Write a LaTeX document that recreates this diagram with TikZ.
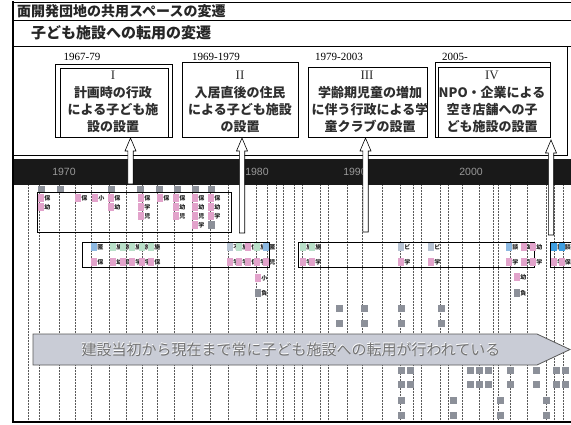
\documentclass[tikz,border=0pt]{standalone}
\usepackage{fontspec}
\setmainfont{Liberation Serif}
\newfontfamily\jp{Noto Sans CJK JP}
\newfontfamily\lsans{Liberation Sans}
\definecolor{tpink}{HTML}{E2A3CB}
\definecolor{tgreen}{HTML}{B9E0C9}
\definecolor{tblue}{HTML}{8DB9E2}
\definecolor{tblue2}{HTML}{3E9EE0}
\definecolor{tbgray}{HTML}{B7C3D3}
\definecolor{tgray}{HTML}{8C9099}
\definecolor{bandfill}{HTML}{C9CCD6}
\definecolor{boxtext}{HTML}{2E2E2E}
\tikzset{
  gridline/.style={densely dotted, line width=0.5pt, black!65},
  frameline/.style={line width=0.7pt, black},
  boxtxt/.style={align=center, font=\jp\bfseries\fontsize{13}{17}\selectfont, text=boxtext, inner sep=0pt},
  numtxt/.style={font=\rmfamily\fontsize{13}{13}\selectfont, text=boxtext, inner sep=0pt},
  yeartxt/.style={font=\rmfamily\fontsize{11}{11}\selectfont, inner sep=0pt},
  bandyear/.style={font=\lsans\fontsize{10.5}{10.5}\selectfont, text=black!40, inner sep=0pt},
  tc/.style={font=\jp\bfseries\fontsize{6}{6}\selectfont, text=black!85, inner sep=0pt},
  hollowarrow/.style={fill=white, draw=black, line width=0.6pt, line join=miter},
  groupbox/.style={draw=black, line width=0.7pt},
  bigarrow/.style={fill=bandfill, draw=black!65, line width=0.8pt},
  sq/.style={fill=tgray}
}
\newcommand\tl[4]{\fill[#3] (#1,#2-4) rectangle ++(6,8); \node[tc] (t#1-#2) at (#1+9.3,#2) {#4};}
\newcommand\sqr[2]{\fill[sq] (#1,#2) rectangle ++(7,7);}
\newcommand\uparr[4]{% name, x, ytip, ybottom
  \coordinate (#1tip) at (#2,#3);
  \coordinate (#1end) at (#2,#4);
  \draw[hollowarrow] (#1tip) -- ++(5.5,13) -- ++(-2.8,0) |- (#1end) -- ++(-2.7,0) -- ++(0,-#4+#3+13) -- ++(-2.8,0) -- cycle;}
\begin{document}
\begin{tikzpicture}[x=1pt,y=-1pt]
\useasboundingbox (0,0) rectangle (571,424);
\fill[white] (0,0) rectangle (571,424);

% dotted timeline grid
\foreach \x in {28,39,59,75,91,109,126,142,157,174,192,210,228,256,267,276,283,294,302,320,328,347,362,382,400,413,421,440,448,462,479,493,498,510,527,546,554,563}
  \draw[gridline] (\x,185) -- (\x,421);

% title rows and panel frame
\draw[frameline] (12,2) -- (571,2);
\draw[frameline] (12,20) -- (571,20);
\draw[frameline] (12,46) -- (571,46);
\draw[frameline] (567,46) -- (567,155) -- (14,155);
\node[anchor=west, font=\jp\bfseries\fontsize{14}{14}\selectfont, text=black!85, inner sep=0pt] (title1) at (17,11) {面開発団地の共用スペースの変遷};
\node[anchor=west, font=\jp\bfseries\fontsize{15}{15}\selectfont, text=black!85, inner sep=0pt] (title2) at (31,33) {子ども施設への転用の変遷};

% years
\node[yeartxt] (yr1) at (82,57) {1967-79};
\node[yeartxt] (yr2) at (216,57) {1969-1979};
\node[yeartxt] (yr3) at (339,57) {1979-2003};
\node[yeartxt] (yr4) at (455,57) {2005-};

% boxes
\draw[frameline] (55,64) rectangle (172,137);
\draw[frameline] (60,68) rectangle (168,137);
\node[numtxt] (nI) at (113,75) {I};
\node[boxtxt] (bI) at (113,110) {計画時の行政\\による子ども施\\設の設置};

\draw[frameline] (182,62) rectangle (298,137);
\node[numtxt] (nII) at (240,75) {II};
\node[boxtxt] (bII) at (240,110) {入居直後の住民\\による子ども施設\\の設置};

\draw[frameline] (308,67) rectangle (427,137);
\node[numtxt] (nIII) at (367,75) {III};
\node[boxtxt] (bIII) at (370,110) {学齢期児童の増加\\に伴う行政による学\\童クラブの設置};

\draw[frameline] (435,62) rectangle (550,137);
\draw[frameline] (438,67) -- (550,67);
\draw[frameline] (438,67) -- (438,137);
\node[numtxt] (nIV) at (492,75) {IV};
\node[boxtxt] (bIV) at (492,110) {NPO・企業による\\空き店舗への子\\ども施設の設置};

% black time band
\fill[black!90] (14,159) rectangle (571,185);
\node[bandyear] (y1970) at (64,172) {1970};
\node[bandyear] (y1980) at (257,172) {1980};
\node[bandyear] (y1990) at (355,172) {1990};
\node[bandyear] (y2000) at (471,172) {2000};

% hollow arrows from timeline to boxes
\uparr{aI}{130.5}{138}{184}
\uparr{aII}{242}{138}{233}
\uparr{aIII}{365.5}{138}{232}
\uparr{aIV}{551}{140}{235}

% group A
\foreach \x in {38,57,108,137,156,174,192,208} \fill[tgray] (\x,186) rectangle ++(7,6);
\draw[groupbox] (37,192) rectangle (231,232);
\tl{38}{198}{tpink}{保}\tl{38}{207}{tpink}{幼}
\tl{75}{198}{tpink}{保}
\tl{92}{198}{tpink}{小}
\tl{108}{198}{tpink}{保}\tl{108}{207}{tpink}{幼}
\tl{138}{198}{tpink}{保}\tl{138}{207}{tpink}{学}\tl{138}{216}{tpink}{児}
\tl{157}{198}{tpink}{保}
\tl{173}{198}{tpink}{保}\tl{173}{207}{tpink}{幼}\tl{173}{216}{tpink}{児}
\tl{192}{198}{tpink}{保}\tl{192}{207}{tpink}{幼}\tl{192}{216}{tpink}{児}\tl{192}{225}{tpink}{学}
\tl{208}{198}{tpink}{保}\tl{208}{207}{tpink}{幼}\tl{208}{216}{tpink}{学}
\fill[tgray] (208,221) rectangle ++(7,8);

% group B
\draw[groupbox] (82,242) rectangle (269,267);
\tl{91}{247}{tblue}{匿}
\tl{110}{247}{tgreen}{施}\tl{119.5}{247}{tgreen}{施}\tl{129}{247}{tgreen}{施}\tl{138.5}{247}{tgreen}{施}\tl{148}{247}{tgreen}{施}
\tl{227}{247}{tbgray}{不}\tl{236}{247}{tgreen}{施}\tl{245}{247}{tpink}{住}\tl{254}{247}{tgreen}{施}\tl{263}{247}{tblue}{匿}
\tl{91}{262}{tpink}{保}
\tl{110}{262}{tpink}{幼}\tl{119.5}{262}{tpink}{保}\tl{129}{262}{tpink}{学}\tl{138.5}{262}{tpink}{学}\tl{148}{262}{tpink}{保}
\tl{227}{262}{tpink}{学}\tl{236}{262}{tpink}{学}\tl{245}{262}{tpink}{保}\tl{254}{262}{tpink}{学}\tl{263}{262}{tpink}{児}
\tl{255}{278}{tpink}{小}
\tl{255}{293}{tgray}{負}

% group C
\draw[groupbox] (298,242) rectangle (534,267);
\tl{300}{247}{tgreen}{施}\tl{309}{247}{tgreen}{施}
\tl{398}{247}{tbgray}{ビ}\tl{428}{247}{tbgray}{ビ}
\tl{506}{247}{tblue}{談}\tl{521}{247}{tpink}{幼}\tl{530}{247}{tpink}{幼}
\tl{300}{262}{tpink}{学}\tl{309}{262}{tpink}{学}
\tl{398}{262}{tpink}{学}\tl{428}{262}{tpink}{学}
\tl{506}{262}{tpink}{学}\tl{521}{262}{tpink}{学}\tl{530}{262}{tpink}{学}
\tl{514}{277}{tpink}{幼}
\tl{514}{293}{tgray}{負}

% group D
\draw[groupbox] (550,242) rectangle (580,267);
\tl{551}{247}{tblue2}{談}\tl{558.5}{247}{tblue2}{談}
\tl{551}{262}{tpink}{学}\tl{558.5}{262}{tpink}{保}

% gray squares
\foreach \x in {336,361,398,438} {\sqr{\x}{305}\sqr{\x}{320}}
\foreach \x in {398,407,467,476,485,507,533,553,562} {\sqr{\x}{367}\sqr{\x}{381}}
\foreach \x in {398,450,497,543} {\sqr{\x}{397}\sqr{\x}{412}}

% big arrow band
\draw[bigarrow] (33,334) -- (537,334) -- (570,349.5) -- (537,365) -- (33,365) -- cycle;
\node[font=\jp\fontsize{15}{15}\selectfont, text=white, inner sep=0pt] at (290.6,349.1) {建設当初から現在まで常に子ども施設への転用が行われている};
\node[font=\jp\fontsize{15}{15}\selectfont, text=black!55, inner sep=0pt] (bandtext) at (291,349.5) {建設当初から現在まで常に子ども施設への転用が行われている};

% outer left and bottom borders
\draw[line width=2.5pt] (13,1) -- (13,423);
\draw[line width=2pt] (12,422) -- (571,422);
\end{tikzpicture}
\end{document}
